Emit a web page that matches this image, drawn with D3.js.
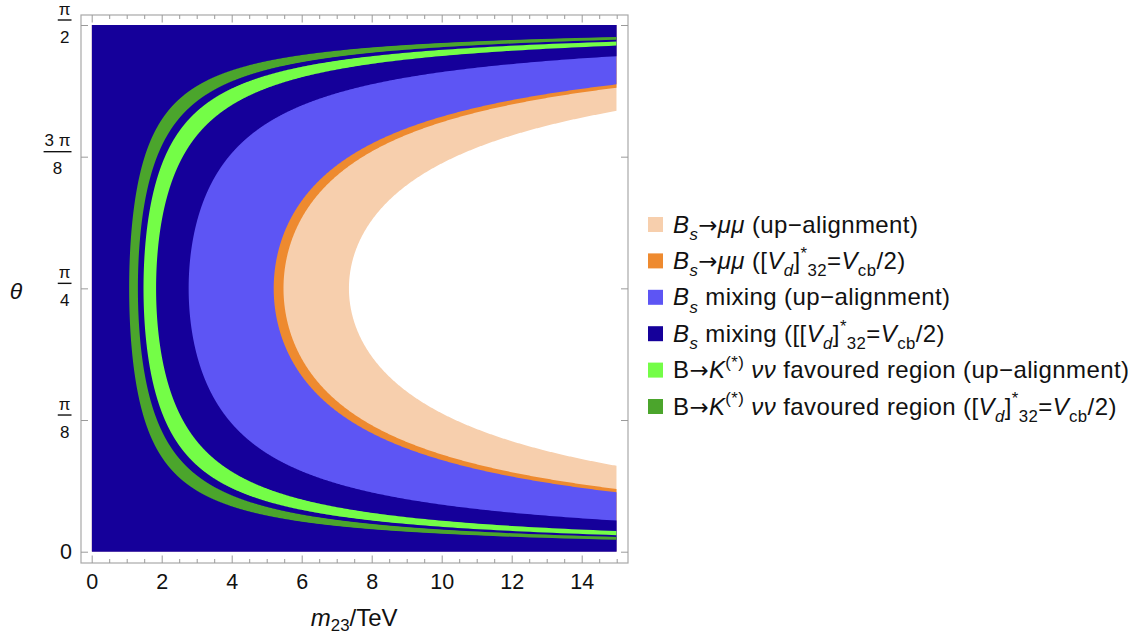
<!DOCTYPE html>
<html>
<head>
<meta charset="utf-8">
<script src="https://cdn.jsdelivr.net/npm/d3@7"></script>
<style>
  body { margin: 0; background: #fff; }
  svg text { font-family: "Liberation Sans", Arial, Helvetica, sans-serif; fill: #111; }
</style>
</head>
<body>
<svg id="chart" width="1128" height="635"></svg>
<script>
// Each region is the set of points with lower < m23·sin(2θ) < upper (m23 in TeV).
// Drawn in this order, later regions on top of earlier ones.
const regionLower = [0, 0, 0, 0, 1.48, 1.07];
const regionUpper = [7.35, 5.48, 5.20, 2.77, 1.84, 1.32];
const regionColors = ["#f7cfad", "#ee8a2f", "#5d55f4", "#15009a", "#74fd47", "#4ba52c"];

// Legend labels as runs of text: [text, style]; style: i = italic, sub / sup, isub = italic subscript, a = arrow
const regionLabels = [
  [["B", "i"], ["s", "isub"], ["→", "a"], ["μμ", "i"], [" (up−alignment)"]],
  [["B", "i"], ["s", "isub"], ["→", "a"], ["μμ", "i"], [" (["], ["V", "i"], ["d", "isub"], ["]"], ["*", "sup"], ["32", "sub"], ["="], ["V", "i"], ["cb", "sub"], ["/2)"]],
  [["B", "i"], ["s", "isub"], [" mixing (up−alignment)"]],
  [["B", "i"], ["s", "isub"], [" mixing ([["], ["V", "i"], ["d", "isub"], ["]"], ["*", "sup"], ["32", "sub"], ["="], ["V", "i"], ["cb", "sub"], ["/2)"]],
  [["B"], ["→", "a"], ["K", "i"], ["(*)", "sup"], [" "], ["νν", "i"], [" favoured region (up−alignment)"]],
  [["B"], ["→", "a"], ["K", "i"], ["(*)", "sup"], [" "], ["νν", "i"], [" favoured region (["], ["V", "i"], ["d", "isub"], ["]"], ["*", "sup"], ["32", "sub"], ["="], ["V", "i"], ["cb", "sub"], ["/2)"]]
];

const xDomain = [0, 15];
const yDomain = [0, Math.PI / 2];
const xTickValues = [0, 2, 4, 6, 8, 10, 12, 14];
const xMinorTickValues = [0.5, 1, 1.5, 2.5, 3, 3.5, 4.5, 5, 5.5, 6.5, 7, 7.5, 8.5, 9, 9.5, 10.5, 11, 11.5, 12.5, 13, 13.5, 14.5, 15];
const yTickValues = [0, Math.PI / 8, Math.PI / 4, 3 * Math.PI / 8, Math.PI / 2];
const yTickLabels = [["0"], ["π", "8"], ["π", "4"], ["3 π", "8"], ["π", "2"]];

const svg = d3.select("#chart");

// plot area and surrounding frame
const plot = { left: 91.7, right: 616.7, top: 25, bottom: 551.7 };
const frame = { left: 81, right: 628, top: 15, bottom: 563 };

const x = d3.scaleLinear().domain(xDomain).range([plot.left, plot.right]);
const y = d3.scaleLinear().domain(yDomain).range([plot.bottom, plot.top]);

// boundary m23·sin(2θ) = c, traced from the bottom-right edge through the vertex at θ = π/4 to the top-right edge
function boundary(c) {
  const xMax = xDomain[1];
  const phi0 = Math.asin(c / xMax);
  const n = 1500;
  return d3.range(n + 1).map(k => {
    const phi = phi0 + (Math.PI - 2 * phi0) * k / n;
    return [Math.min(xMax, c / Math.sin(phi)), phi / 2];
  });
}

const line = d3.line().x(d => x(d[0])).y(d => y(d[1]));

svg.append("defs").append("clipPath").attr("id", "plotClip")
  .append("rect")
  .attr("x", plot.left).attr("y", plot.top)
  .attr("width", plot.right - plot.left).attr("height", plot.bottom - plot.top);

const regionsG = svg.append("g").attr("clip-path", "url(#plotClip)");

regionUpper.forEach((hi, i) => {
  const lo = regionLower[i];
  let pts;
  if (lo <= 0) {
    pts = [[xDomain[0], yDomain[0]], [xDomain[1], yDomain[0]], ...boundary(hi), [xDomain[1], yDomain[1]], [xDomain[0], yDomain[1]]];
  } else {
    pts = [...boundary(hi), ...boundary(lo).reverse()];
  }
  regionsG.append("path")
    .attr("d", line(pts) + "Z")
    .attr("fill", regionColors[i])
    .attr("stroke", "none");
});

// frame
svg.append("rect")
  .attr("x", frame.left).attr("y", frame.top)
  .attr("width", frame.right - frame.left).attr("height", frame.bottom - frame.top)
  .attr("fill", "none").attr("stroke", "#a8a8a8").attr("stroke-width", 1.2);

const tickColor = "#9a9a9a";
function styleAxis(g) {
  g.select(".domain").remove();
  g.selectAll(".tick line").attr("stroke", tickColor).attr("stroke-width", 1);
}

// bottom axis with labels
svg.append("g").attr("transform", `translate(0,${frame.bottom})`)
  .call(d3.axisBottom(x).tickValues(xTickValues).tickSize(-7.5).tickPadding(11).tickFormat(d3.format("d")))
  .call(styleAxis)
  .call(g => g.selectAll("text").attr("font-size", 21.5).attr("fill", "#111")
    .attr("font-family", "'Liberation Sans', Arial, sans-serif"));
svg.append("g").attr("transform", `translate(0,${frame.bottom})`)
  .call(d3.axisBottom(x).tickValues(xMinorTickValues).tickSize(-4).tickFormat(""))
  .call(styleAxis);

// top axis (ticks only)
svg.append("g").attr("transform", `translate(0,${frame.top})`)
  .call(d3.axisTop(x).tickValues(xTickValues).tickSize(-7.5).tickFormat(""))
  .call(styleAxis);
svg.append("g").attr("transform", `translate(0,${frame.top})`)
  .call(d3.axisTop(x).tickValues(xMinorTickValues).tickSize(-4).tickFormat(""))
  .call(styleAxis);

// left and right ticks
svg.append("g").attr("transform", `translate(${frame.left},0)`)
  .call(d3.axisLeft(y).tickValues(yTickValues).tickSize(-7).tickFormat(""))
  .call(styleAxis);
svg.append("g").attr("transform", `translate(${frame.right},0)`)
  .call(d3.axisRight(y).tickValues(yTickValues).tickSize(-7).tickFormat(""))
  .call(styleAxis);

// y tick labels: plain numbers or stacked fractions of π
const labelRight = 71.5;
yTickValues.forEach((v, i) => {
  const lab = yTickLabels[i];
  const ty = y(v);
  if (lab.length === 1) {
    svg.append("text").attr("x", labelRight + 0.5).attr("y", ty).attr("dy", "0.36em")
      .attr("text-anchor", "end").attr("font-size", 21.5).text(lab[0]);
    return;
  }
  const g = svg.append("g");
  const barY = ty - 5;
  const num = g.append("text").attr("y", barY - 5.5).attr("font-size", 17).attr("text-anchor", "middle").text(lab[0]);
  const den = g.append("text").attr("y", barY + 22.5).attr("font-size", 17).attr("text-anchor", "middle").text(lab[1]);
  const w = Math.max(num.node().getComputedTextLength(), den.node().getComputedTextLength()) + 2;
  const cx = labelRight - w / 2;
  num.attr("x", cx);
  den.attr("x", cx);
  g.append("line").attr("x1", labelRight - w).attr("x2", labelRight)
    .attr("y1", barY).attr("y2", barY).attr("stroke", "#111").attr("stroke-width", 1.4);
});

// rich text helper: runs with italic / subscript / superscript
function richText(sel, runs, size, subShift) {
  const down = subShift == null ? 0.3 : subShift;
  let shift = 0;
  runs.forEach(([t, s]) => {
    const style = s || "";
    const isSub = style === "sub" || style === "isub";
    const isSup = style === "sup";
    const target = isSub ? down * size : isSup ? -0.42 * size : 0;
    const span = sel.append("tspan")
      .attr("dy", target - shift)
      .attr("font-size", (isSub || isSup) ? size * 0.7 : size)
      .attr("font-style", (style === "i" || style === "isub") ? "italic" : "normal")
      .text(t);
    if (style === "a") span.attr("font-family", "'DejaVu Sans', sans-serif").attr("font-size", size * 0.95);
    shift = target;
  });
}

// axis titles
const xTitle = svg.append("text").attr("x", (plot.left + plot.right) / 2).attr("y", 626)
  .attr("text-anchor", "middle").attr("font-size", 24);
richText(xTitle, [["m", "i"], ["23", "sub"], ["/TeV"]], 24, 0.2);

svg.append("text").attr("x", 16).attr("y", 291).attr("dy", "0.36em")
  .attr("text-anchor", "middle").attr("font-size", 23).attr("font-style", "italic").text("θ");

// legend
const legend = svg.append("g");
const legendTop = 224.5, legendStep = 36.4;
regionLabels.forEach((runs, i) => {
  const cy = legendTop + i * legendStep;
  legend.append("rect").attr("x", 648).attr("y", cy - 7.5).attr("width", 15).attr("height", 15)
    .attr("fill", regionColors[i]);
  const t = legend.append("text").attr("x", 673).attr("y", cy + 8).attr("font-size", 24)
    .attr("letter-spacing", 0.4);
  richText(t, runs, 24);
});
</script>
</body>
</html>
